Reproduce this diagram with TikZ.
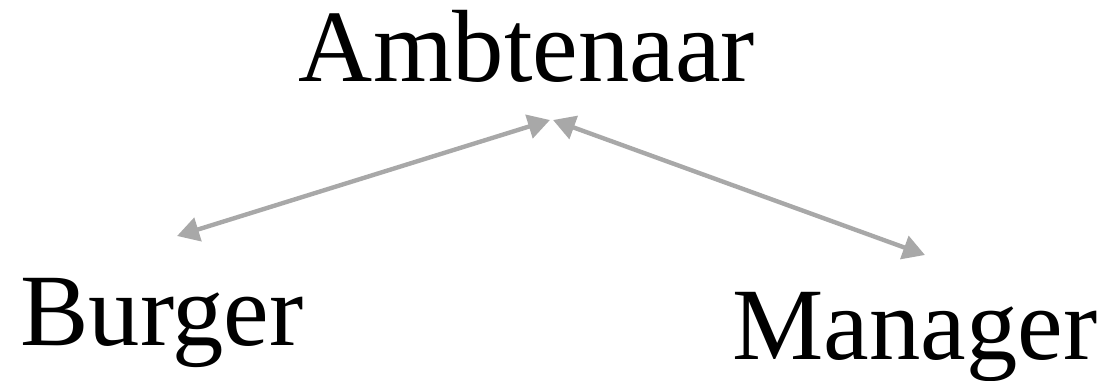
\documentclass[tikz,border=0pt]{standalone}
\usepackage{fontspec}
\setmainfont{Liberation Serif}
\usetikzlibrary{arrows.meta}
\definecolor{arrowgray}{RGB}{168,168,168}
\tikzset{
  word/.style={inner sep=0pt, anchor=base, font=\fontsize{73}{88}\selectfont},
  link/.style={draw=arrowgray, line width=0.11cm,
    {Triangle[length=0.55cm,width=0.6cm]}-{Triangle[length=0.55cm,width=0.6cm]}}
}
\begin{document}
\begin{tikzpicture}[x=0.025cm, y=-0.025cm]
  \useasboundingbox (0,0) rectangle (1105,381);
  \node[word] (amb) at (527,82) {Ambtenaar};
  \node[word] (bur) at (162,345) {Burger};
  \node[word] (man) at (915,359) {Manager};
  \coordinate (ambL) at (550,120);
  \coordinate (ambR) at (553,120);
  \coordinate (burT) at (177,236);
  \coordinate (manT) at (925,255);
  \draw[link] (burT) -- (ambL);
  \draw[link] (ambR) -- (manT);
\end{tikzpicture}
\end{document}
